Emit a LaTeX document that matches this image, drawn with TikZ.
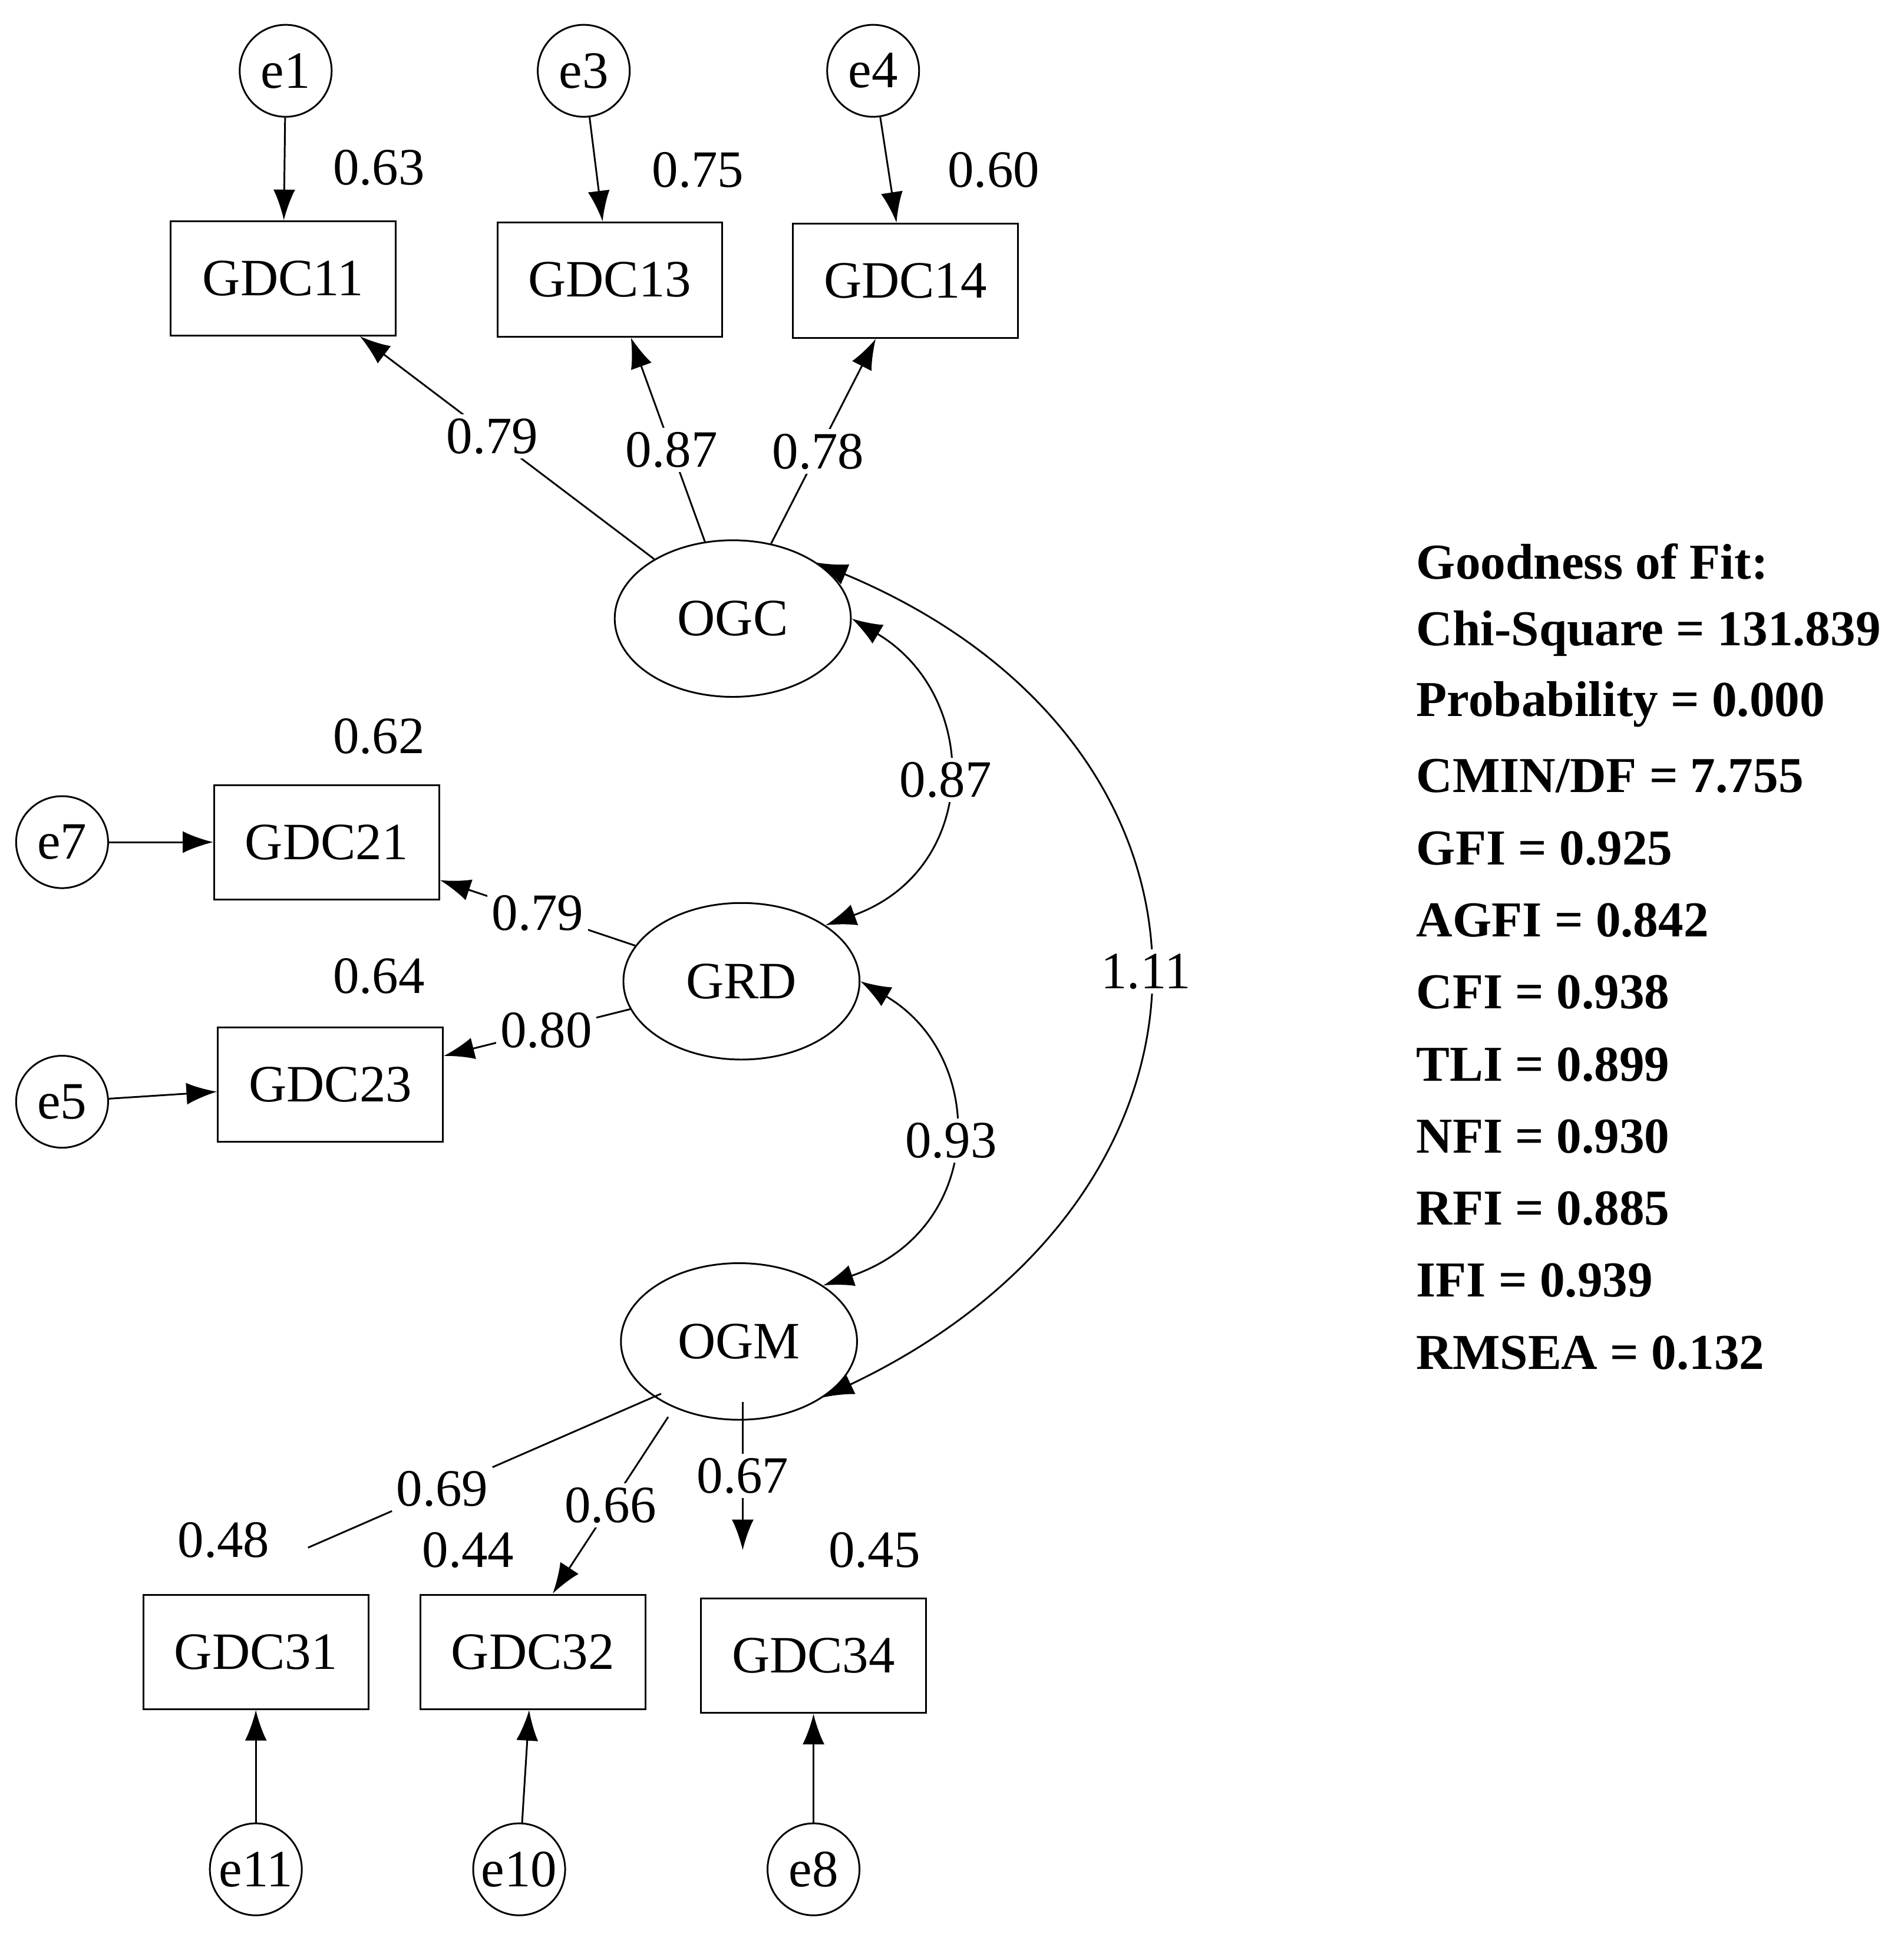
\documentclass[tikz,border=0pt]{standalone}
\usepackage{fontspec}
\setmainfont{Liberation Serif}
\usetikzlibrary{shapes.geometric,arrows.meta}
\begin{document}
\begin{tikzpicture}[x=0.01cm,y=-0.01cm,
  font=\fontsize{12}{14}\selectfont,
  err/.style={circle,draw,minimum size=0.74cm,inner sep=0pt},
  obs/.style={rectangle,draw,minimum width=1.81cm,minimum height=0.92cm},
  lat/.style={ellipse,draw,minimum width=1.9cm,minimum height=1.26cm},
  arr/.style={-{Latex[length=7pt,width=5pt]}},
  darr/.style={{Latex[length=7pt,width=5pt]}-{Latex[length=7pt,width=5pt]}},
  lab/.style={fill=white,inner sep=1pt},
  fit/.style={anchor=west,font=\fontsize{11.5}{13}\selectfont\bfseries}]
\useasboundingbox (0,0) rectangle (1528,1578);
\node[err] (e1) at (230,57) {e1};
\node[err] (e3) at (470,57) {e3};
\node[err] (e4) at (703,57) {e4};
\node[obs] (g11) at (228,224) {GDC11};
\node[obs] (g13) at (491,225) {GDC13};
\node[obs] (g14) at (729,226) {GDC14};
\node at (305,135) {0.63};
\node at (562,137) {0.75};
\node at (800,137) {0.60};
\node[lat] (ogc) at (590,498) {OGC};
\node[lat] (grd) at (597,790) {GRD};
\node[lat] (ogm) at (595,1080) {OGM};
\node[obs] (g21) at (263,678) {GDC21};
\node[obs] (g23) at (266,873) {GDC23};
\node[err] (e7) at (50,678) {e7};
\node[err] (e5) at (50,887) {e5};
\node at (305,593) {0.62};
\node at (305,786) {0.64};
\node[obs] (g31) at (206,1330) {GDC31};
\node[obs] (g32) at (429,1330) {GDC32};
\node[obs] (g34) at (655,1333) {GDC34};
\node[err] (e11) at (206,1505) {e11};
\node[err] (e10) at (418,1505) {e10};
\node[err] (e8) at (655,1505) {e8};
\node at (180,1240) {0.48};
\node at (377,1248) {0.44};
\node at (704,1248) {0.45};
\coordinate (t31) at (248,1246);
\coordinate (t32) at (445,1283);
\coordinate (t34) at (598,1248);
\draw[arr] (e1) -- (g11);
\draw[arr] (e3) -- (g13);
\draw[arr] (e4) -- (g14);
\draw[arr] (e7) -- (g21);
\draw[arr] (e5) -- (g23);
\draw[arr] (e11) -- (g31);
\draw[arr] (e10) -- (g32);
\draw[arr] (e8) -- (g34);
\draw[arr] (ogc) -- node[lab,pos=0.55] {0.79} (g11);
\draw[arr] (ogc) -- node[lab,pos=0.45] {0.87} (g13);
\draw[arr] (ogc) -- node[lab,pos=0.45] {0.78} (g14);
\draw[arr] (grd) -- node[lab,pos=0.5] {0.79} (g21);
\draw[arr] (grd) -- node[lab,pos=0.45] {0.80} (g23);
\draw (ogm.south west) ++(5,-3) coordinate (s31) -- node[lab,pos=0.62] {0.69} (t31);
\draw[arr] (ogm.south) ++(-57,-3) coordinate (s32) -- node[lab,pos=0.5] {0.66} (t32);
\draw[arr] (ogm.south) ++(3,-15) coordinate (s34) -- node[lab,pos=0.5] {0.67} (t34);
\draw[darr] (ogc.east) .. controls (790,560) and (790,700) .. node[lab,pos=0.5] {0.87} (grd.north east);
\draw[darr] (grd.east) .. controls (795,850) and (795,990) .. node[lab,pos=0.5] {0.93} (ogm.north east);
\draw[darr] (ogc.north east) .. controls (1010,600) and (1010,960) .. node[lab,pos=0.5] {1.11} (ogm.south east);
\node[fit] (f1) at (1128,452) {Goodness of Fit:};
\node[fit] at (1128,510) {Chi-Square = 131.839};
\node[fit] at (1128,567) {Probability = 0.000};
\node[fit] at (1128,625) {CMIN/DF = 7.755};
\node[fit] at (1128,683) {GFI = 0.925};
\node[fit] at (1128,741) {AGFI = 0.842};
\node[fit] at (1128,799) {CFI = 0.938};
\node[fit] at (1128,857) {TLI = 0.899};
\node[fit] at (1128,915) {NFI = 0.930};
\node[fit] at (1128,973) {RFI = 0.885};
\node[fit] at (1128,1031) {IFI = 0.939};
\node[fit] at (1128,1089) {RMSEA = 0.132};
\end{tikzpicture}
\end{document}
